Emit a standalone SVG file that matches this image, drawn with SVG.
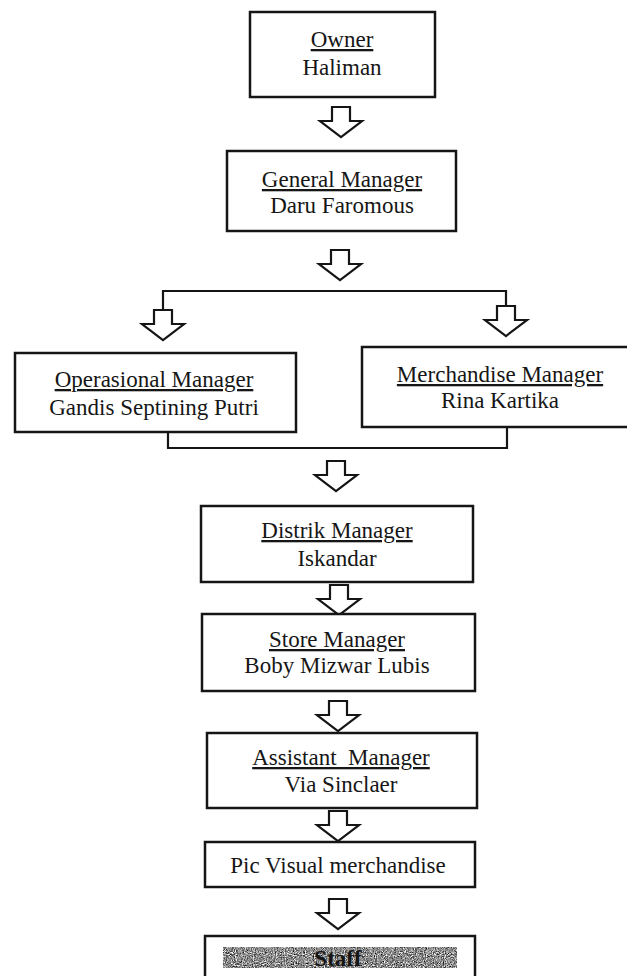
<svg xmlns="http://www.w3.org/2000/svg" width="627" height="976" viewBox="0 0 627 976">
<style>
  .box { fill: #ffffff; stroke: #151515; stroke-width: 2.5; }
  .t { font-family: "Liberation Serif", "Times New Roman", serif; font-size: 23px; fill: #161616; text-anchor: middle; }
  .u { text-decoration: underline; }
  .ln { fill: none; stroke: #151515; stroke-width: 2.2; }
  .arr { fill: #ffffff; stroke: #151515; stroke-width: 2.2; stroke-linejoin: miter; }
</style>
<defs>
  <path id="arrow" d="M -9,0 L 9,0 L 9,14 L 21,14 L 0,30 L -21,14 L -9,14 Z"/>
  <filter id="noise" x="0" y="0" width="100%" height="100%" color-interpolation-filters="sRGB">
    <feTurbulence type="fractalNoise" baseFrequency="0.9" numOctaves="2" seed="3" result="n"/>
    <feColorMatrix in="n" type="matrix" values="1.1 1.1 0 0 -0.55  1.1 1.1 0 0 -0.55  1.1 1.1 0 0 -0.55  0 0 0 0 1" result="g"/>
    <feComposite in="g" in2="SourceGraphic" operator="in"/>
  </filter>
</defs>
<rect width="627" height="976" fill="#ffffff"/>

<g id="connectors">
  <polyline class="ln" points="163,311 163,291 506,291 506,306"/>
  <polyline class="ln" points="168,432 168,448 507,448 507,427"/>
  <use href="#arrow" class="arr" transform="translate(341,107)"/>
  <use href="#arrow" class="arr" transform="translate(340,250)"/>
  <use href="#arrow" class="arr" transform="translate(163,310)"/>
  <use href="#arrow" class="arr" transform="translate(506,306)"/>
  <use href="#arrow" class="arr" transform="translate(336,461)"/>
  <use href="#arrow" class="arr" transform="translate(339,585)"/>
  <use href="#arrow" class="arr" transform="translate(338,701)"/>
  <use href="#arrow" class="arr" transform="translate(338,811)"/>
  <use href="#arrow" class="arr" transform="translate(338,899)"/>
</g>

<g id="owner">
  <rect class="box" x="250" y="12" width="185" height="85"/>
  <text class="t u" x="342" y="47">Owner</text>
  <text class="t" x="342" y="75">Haliman</text>
</g>

<g id="general-manager">
  <rect class="box" x="227" y="151" width="229" height="80"/>
  <text class="t u" x="342" y="187">General Manager</text>
  <text class="t" x="342" y="213">Daru Faromous</text>
</g>

<g id="operasional-manager">
  <rect class="box" x="15" y="353" width="281" height="79"/>
  <text class="t u" x="154" y="387">Operasional Manager</text>
  <text class="t" x="154" y="415">Gandis Septining Putri</text>
</g>

<g id="merchandise-manager">
  <rect class="box" x="362" y="347" width="270" height="80"/>
  <text class="t u" x="500" y="382">Merchandise Manager</text>
  <text class="t" x="500" y="408">Rina Kartika</text>
</g>

<g id="distrik-manager">
  <rect class="box" x="201" y="506" width="272" height="76"/>
  <text class="t u" x="337" y="538">Distrik Manager</text>
  <text class="t" x="337" y="566">Iskandar</text>
</g>

<g id="store-manager">
  <rect class="box" x="202" y="614" width="273" height="77"/>
  <text class="t u" x="337" y="647">Store Manager</text>
  <text class="t" x="337" y="673">Boby Mizwar Lubis</text>
</g>

<g id="assistant-manager">
  <rect class="box" x="207" y="733" width="270" height="75"/>
  <text class="t u" x="341" y="765" style="white-space:pre">Assistant  Manager</text>
  <text class="t" x="341" y="792">Via Sinclaer</text>
</g>

<g id="pic-visual">
  <rect class="box" x="205" y="842" width="270" height="45"/>
  <text class="t" x="338" y="873">Pic Visual merchandise</text>
</g>

<g id="staff">
  <rect class="box" x="205" y="936" width="270" height="50"/>
  <rect x="223" y="947" width="234" height="21" fill="#8c8c8c" filter="url(#noise)"/>
  <text class="t" x="338" y="966" font-weight="bold">Staff</text>
</g>
</svg>
